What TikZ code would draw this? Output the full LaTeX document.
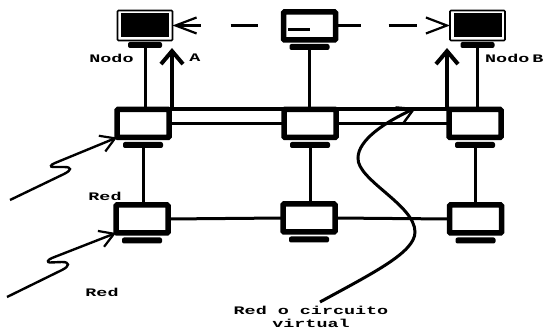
\documentclass[tikz,border=0pt]{standalone}
\usepackage{fontspec}
\newfontfamily\labelfont[FakeStretch=1.6]{Liberation Mono}
\usetikzlibrary{arrows.meta,positioning}
\begin{document}
\begin{tikzpicture}[x=1pt, y=-1pt]
    \tikzset{mon/.style={draw, line width=5.5pt, fill=white, minimum width=52pt, minimum height=28pt, inner sep=0pt, outer sep=0pt, rounded corners=1pt},
             host/.style={mon, line width=1.6pt, minimum width=55pt, minimum height=30pt},
             screen/.style={fill=black, minimum width=48pt, minimum height=24pt, inner sep=0pt},
             base/.style={fill=black, minimum width=40pt, minimum height=6pt, inner sep=0pt, outer sep=0pt, rounded corners=2pt},
             link/.style={line width=3pt},
             dashlink/.style={line width=2.2pt},
             wire/.style={line width=2.4pt, -{wiretip}},
             bigarrow/.style={line width=4pt, -{Straight Barb[length=13pt, width=22pt, line width=4pt]}},
             barb/.tip={Straight Barb[length=21pt, width=16pt, line width=2.2pt]},
             wiretip/.tip={Straight Barb[length=14pt, width=17pt, line width=2.2pt]},
             lbl/.style={font=\labelfont\bfseries\fontsize{11.5}{12}\selectfont, inner sep=0pt, align=center}}
    \useasboundingbox (0,0) rectangle (549,331);
    % monitors
    \node[host] (hostA) at (145,25.5) {};
    \node[screen] (screenA) at (145,25) {};
    \node[base, minimum width=34pt] (baseA) at (145,45) {};
    \node[host] (hostB) at (477.5,25.5) {};
    \node[screen] (screenB) at (477.5,25) {};
    \node[base, minimum width=34pt] (baseB) at (477.5,45) {};
    \node[mon] (sw0) at (309.5,26) {};
    \node[base] (base0) at (309.5,47) {};
    \foreach \name/\xx/\yy in {sw1/143/123.5, sw2/310/123.5, sw3/475/123.5, sw4/142/219, sw5/309/218, sw6/475.5/219} {
      \node[mon] (\name) at (\xx,\yy) {};
      \node[base] (base\name) at (\xx,{\yy+21.5}) {};
    }
    \node[fill=black, minimum width=22pt, minimum height=3pt, inner sep=0pt] (mark0) at (299,30) {};
    % coordinates for the thick uprights
    \coordinate (upA) at (172,107);
    \coordinate (upAtop) at (172,48);
    \coordinate (upB) at (447,107);
    \coordinate (upBtop) at (447,48);
    % links
    \foreach \a/\b in {baseA/sw1, base0/sw2, baseB/sw3, basesw1/sw4, basesw2/sw5, basesw3/sw6} {
      \draw[link] (\a.south |- \b.north) -- (\a.south);
    }
    \draw[bigarrow] (upA) -- (upAtop);
    \draw[bigarrow] (upB) -- (upBtop);
    \draw[line width=4pt] (sw1.north east) -- (sw2.north west);
    \draw[line width=4pt] (sw2.north east) -- (sw3.north west);
    \draw[link] (sw1.east) -- (sw2.west);
    \draw[link] (sw2.east) -- (sw3.west);
    \draw[link] (sw4.east) -- (sw5.west);
    \draw[link] (sw5.east) -- (sw6.west);
    % dashed path between the end nodes
    \draw[dashlink, {barb}-, dash pattern=on 24pt off 30pt on 27pt off 99pt] (hostA.east) -- (sw0.west |- hostA.east);
    \draw[dashlink, -{barb}, dash pattern=on 25pt off 28pt on 28pt off 99pt] (sw0.east |- hostB.west) -- (hostB.west);
    % incoming wires
    \coordinate (wire1) at (10,200);
    \coordinate (wire2) at (7,297);
    \draw[wire] (wire1) -- (64,174) .. controls (72,170) and (72,167) .. (64,167) -- (53,167) .. controls (50,167) and (50,165) .. (55,163) -- (sw1.south west);
    \draw[wire] (wire2) -- (62,270) .. controls (70,266) and (70,262) .. (62,262) -- (50,262.5) .. controls (47,262.5) and (47,260) .. (52,258) -- (sw4.south west);
    % curve to the virtual circuit
    \coordinate (curveEnd) at (320,302);
    \coordinate (curveTip) at (416,108);
    \draw[line width=3pt, -{Straight Barb[length=16pt, width=18pt, line width=2.4pt]}] (curveEnd)
      .. controls (375,272) and (415,252) .. (415,232)
      .. controls (415,205) and (357,180) .. (358,158)
      .. controls (358,140) and (385,122) .. (curveTip);
    % labels
    \node[lbl] (lblNodoA) at (111.5,58) {Nodo};
    \node[lbl] (lblA) at (195,58) {A};
    \node[lbl, anchor=west] (lblNodoB) at (485,58) {Nodo\hspace{3pt}B};
    \node[lbl] (lblRed1) at (105,196) {Red};
    \node[lbl] (lblRed2) at (102,292) {Red};
    \node[lbl] (lblCircuit) at (311,310) {Red o circuito};
    \node[lbl] (lblVirtual) at (311,323) {virtual};
\end{tikzpicture}
\end{document}
